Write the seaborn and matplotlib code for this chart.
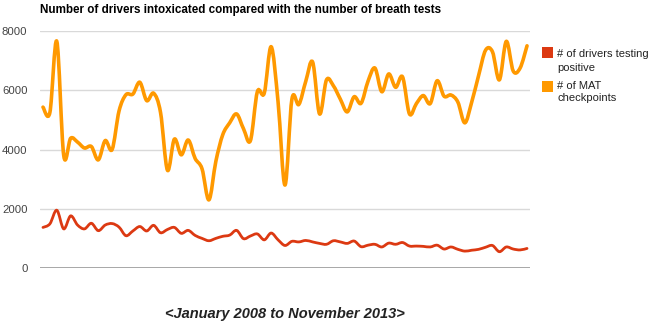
import numpy as np
import pandas as pd
import matplotlib
matplotlib.use("Agg")
import matplotlib.pyplot as plt
import seaborn as sns
from matplotlib.path import Path
from matplotlib.patches import PathPatch, Rectangle

# ---------------- data (Jan 2008 .. Nov 2013, monthly) ----------------
months = pd.date_range("2008-01-01", "2013-11-01", freq="MS")

drivers_positive = [
    1370, 1490, 1950, 1320, 1760, 1450, 1320, 1510, 1260, 1450,
    1500, 1380, 1090, 1250, 1400, 1250, 1440, 1190, 1300, 1370,
    1170, 1270, 1100, 1000, 920, 1000, 1070, 1110, 1270, 990,
    1080, 1150, 950, 1180, 950, 760, 900, 880, 930, 880,
    830, 800, 920, 880, 830, 910, 720, 770, 800, 710,
    840, 800, 860, 740, 740, 730, 710, 770, 640, 710,
    630, 570, 600, 630, 700, 760, 550, 710, 640, 610,
    660,
]

mat_checkpoints = [
    5430, 5250, 7650, 3800, 4380, 4250, 4050, 4100, 3650, 4300,
    4000, 5300, 5850, 5870, 6270, 5650, 5900, 5250, 3300, 4350,
    3820, 4320, 3700, 3350, 2300, 3600, 4500, 4900, 5200, 4700,
    4300, 5950, 5900, 7470, 5600, 2800, 5700, 5520, 6300, 6950,
    5200, 6350, 6150, 5700, 5270, 5780, 5560, 6300, 6750, 5950,
    6550, 6100, 6450, 5200, 5550, 5820, 5550, 6320, 5800, 5840,
    5600, 4900, 5600, 6500, 7350, 7300, 6350, 7650, 6650, 6750,
    7500,
]

series_names = ["# of drivers testing positive", "# of MAT checkpoints"]
legend_lines = [["# of drivers testing", "positive"], ["# of MAT", "checkpoints"]]
series_colors = ["#dc3912", "#ff9900"]
y_ticks = [0, 2000, 4000, 6000, 8000]
title = "Number of drivers intoxicated compared with the number of breath tests"
x_label = "<January 2008 to November 2013>"

month_idx = np.arange(len(months))
df = pd.concat([
    pd.DataFrame({"month": month_idx, "value": drivers_positive, "series": series_names[0]}),
    pd.DataFrame({"month": month_idx, "value": mat_checkpoints, "series": series_names[1]}),
])

# ---------------- figure ----------------
sns.set_theme(style="white")
plt.rcParams["font.family"] = ["Liberation Sans", "DejaVu Sans"]

W, H = 650, 323
fig = plt.figure(figsize=(W / 100, H / 100), dpi=100)
ax = fig.add_axes([40 / W, 1 - 268 / H, 490 / W, (268 - 31) / H])

sns.lineplot(data=df, x="month", y="value", hue="series", hue_order=series_names,
             palette=series_colors, legend=False, ax=ax, sort=False)


def smooth_path(xy, tension=1.0):
    n = len(xy)
    verts = [xy[0]]
    codes = [Path.MOVETO]
    for i in range(n - 1):
        p0 = xy[max(i - 1, 0)]
        p1 = xy[i]
        p2 = xy[i + 1]
        p3 = xy[min(i + 2, n - 1)]
        c1 = p1 + (p2 - p0) / 6.0 * tension
        c2 = p2 - (p3 - p1) / 6.0 * tension
        verts += [c1, c2, p2]
        codes += [Path.CURVE4] * 3
    return Path(verts, codes)


widths = [2.0, 2.6]
for line, lw in zip(list(ax.lines), widths):
    xy = line.get_xydata()
    patch = PathPatch(smooth_path(xy), facecolor="none", edgecolor=line.get_color(),
                      lw=lw, capstyle="round", joinstyle="round", zorder=3)
    ax.add_patch(patch)
    line.set_visible(False)

ax.set_xlim(-0.43, len(months) - 1 + 0.43)
ax.set_ylim(0, 8000)
ax.set_yticks(y_ticks)
ax.set_yticklabels([str(t) for t in y_ticks], fontsize=8.2, color="#444444")
ax.set_xticks([])
ax.set_xlabel("")
ax.set_ylabel("")
ax.tick_params(axis="y", length=0, pad=9)
for s in ax.spines.values():
    s.set_visible(False)
ax.grid(axis="y", color="#d9d9d9", lw=1.0)
ax.axhline(0, color="#9a9a9a", lw=1.2, zorder=2)
ax.set_axisbelow(True)

# title and axis caption
fig.text(40 / W, 1 - 10 / H, title, fontsize=8.4, fontweight="bold",
         color="#000000", ha="left", va="center")
fig.text(285 / W, 1 - 314 / H, x_label, fontsize=10.5, fontweight="bold",
         fontstyle="italic", color="#222222", ha="center", va="center")

# legend (Google-chart style squares)
sq_y = [53, 87]
line_y = [[54, 68], [86, 98]]
for color, lines, sy, ly in zip(series_colors, legend_lines, sq_y, line_y):
    fig.patches.append(Rectangle((542 / W, 1 - (sy + 5) / H), 11 / W, 11 / H,
                                 transform=fig.transFigure, facecolor=color,
                                 edgecolor="none"))
    for txt, yy in zip(lines, ly):
        fig.text(557 / W, 1 - yy / H, txt, fontsize=8.0, color="#222222",
                 ha="left", va="center")

fig.savefig("out.png", dpi=100)
